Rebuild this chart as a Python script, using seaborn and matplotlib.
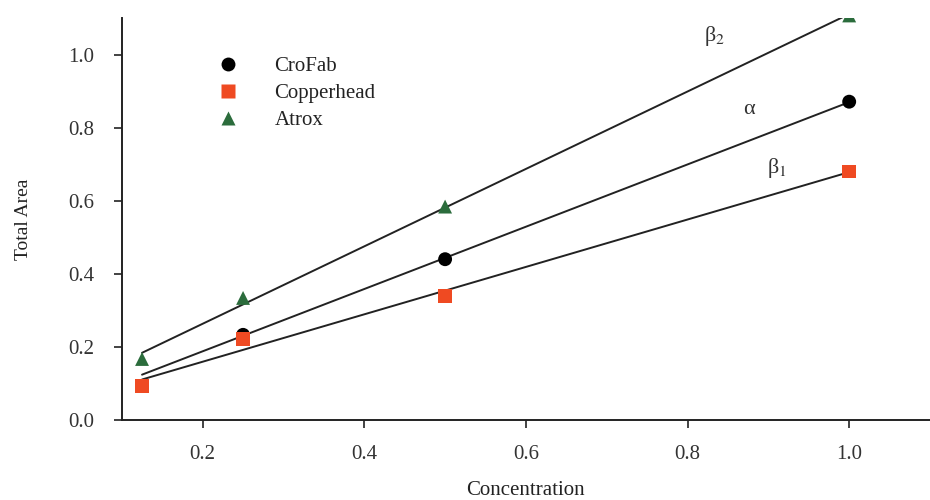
import numpy as np
import pandas as pd
import seaborn as sns
import matplotlib
matplotlib.use('Agg')
import matplotlib.pyplot as plt

# values
concentration = [0.125, 0.25, 0.5, 1.0]
crofab = [None, 0.233, 0.44, 0.871]      # first point not visible in the figure
copperhead = [0.093, 0.222, 0.34, 0.68]
atrox = [0.167, 0.334, 0.584, 1.107]

series = ['CroFab', 'Copperhead', 'Atrox']
curve_labels = ['α', 'β$_{1}$', 'β$_{2}$']
label_pos = [(0.876, 0.85), (0.91, 0.69), (0.833, 1.05)]
colors = {'CroFab': 'black', 'Copperhead': '#ef4a22', 'Atrox': '#2b6c3c'}
markers = {'CroFab': 'o', 'Copperhead': 's', 'Atrox': '^'}

rows = []
for name, vals in zip(series, [crofab, copperhead, atrox]):
    for c, v in zip(concentration, vals):
        if v is not None:
            rows.append({'Concentration': c, 'Total Area': v, 'Sample': name})
df = pd.DataFrame(rows)

sns.set_style('ticks')
plt.rcParams['font.family'] = ['Liberation Serif', 'DejaVu Serif']
plt.rcParams['mathtext.fontset'] = 'stix'

fig = plt.figure(figsize=(9.3, 5), dpi=100)
ax = fig.add_axes([0.131, 0.16, 0.869, 0.804])

# fitted lines drawn across the concentration range
xfit = np.array([min(concentration), max(concentration)])
for name in series:
    d = df[df['Sample'] == name]
    k, b = np.polyfit(d['Concentration'], d['Total Area'], 1)
    sns.lineplot(x=xfit, y=k * xfit + b, color='#222222', lw=1.4, ax=ax,
                 legend=False, zorder=1)

sns.scatterplot(data=df, x='Concentration', y='Total Area', hue='Sample',
                style='Sample', palette=colors, markers=markers, s=100,
                edgecolor='none', ax=ax, zorder=3)

for lab, (lx, ly) in zip(curve_labels, label_pos):
    ax.text(lx, ly, lab, fontsize=16, ha='center', va='center', color='#333333')

ax.set_xlim(0.1, 1.1)
ax.set_ylim(0, 1.1)
ax.set_xticks([0.2, 0.4, 0.6, 0.8, 1.0])
ax.set_yticks([0.0, 0.2, 0.4, 0.6, 0.8, 1.0])
ax.set_xticklabels(['0.2', '0.4', '0.6', '0.8', '1.0'])
ax.set_yticklabels(['0.0', '0.2', '0.4', '0.6', '0.8', '1.0'])
ax.tick_params(labelsize=15, length=6, width=1.2, color='#222222',
               labelcolor='#333333')
ax.tick_params(axis='x', pad=12)
ax.tick_params(axis='y', pad=14)
ax.set_xlabel('Concentration', fontsize=15, labelpad=12, color='#222222')
ax.set_ylabel('Total Area', fontsize=14, labelpad=26, color='#222222')

for s in ['top', 'right']:
    ax.spines[s].set_visible(False)
for s in ['left', 'bottom']:
    ax.spines[s].set_linewidth(1.4)
    ax.spines[s].set_color('#222222')

leg = ax.legend(title=None, frameon=False, fontsize=15, loc='upper left',
                bbox_to_anchor=(0.083, 0.95), handletextpad=1.2, labelspacing=0.35,
                markerscale=1.0)
for t in leg.get_texts():
    t.set_color('#222222')

fig.savefig('out.png', dpi=100)
